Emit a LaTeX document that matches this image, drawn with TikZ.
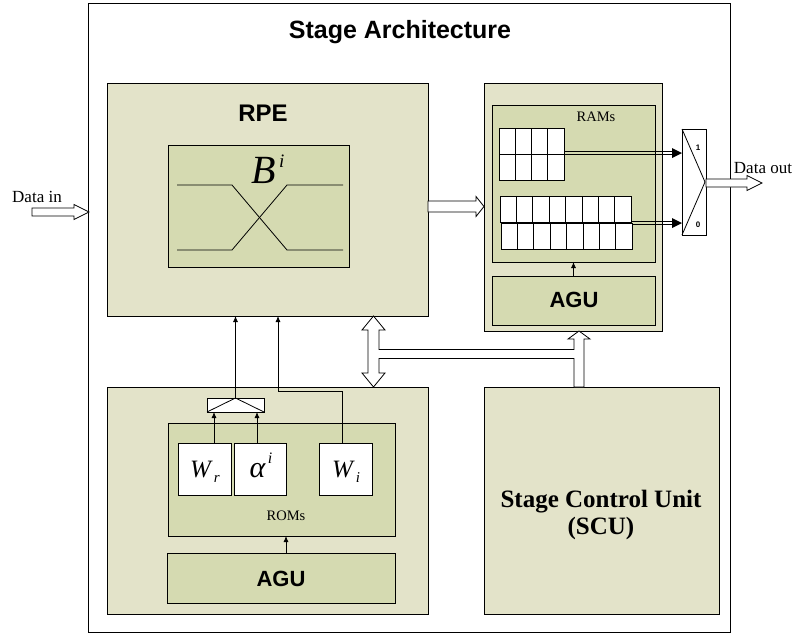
\documentclass[tikz,border=0pt]{standalone}
\usepackage{fontspec}
\setmainfont{Liberation Serif}
\newfontfamily\arialf{Liberation Sans}
\usetikzlibrary{arrows.meta,calc}
\definecolor{outerfill}{RGB}{227,227,201}
\definecolor{innerfill}{RGB}{213,218,177}
\tikzset{
  box/.style={draw=black, line width=0.9pt, inner sep=0pt, outer sep=0pt, anchor=north west},
  obox/.style={box, fill=outerfill},
  ibox/.style={box, fill=innerfill},
  wbox/.style={box, fill=white},
  cell/.style={draw=black, fill=white, line width=0.8pt},
  sig/.style={line width=0.8pt, -{Latex[length=6pt,width=5pt]}},
  wire/.style={line width=0.8pt},
  hollow/.style={draw=black, fill=white, line width=0.8pt, line join=miter},
  lbl/.style={inner sep=0pt, outer sep=0pt},
  bigsans/.style={lbl, font=\arialf\bfseries\fontsize{24}{26}\selectfont},
  agusans/.style={lbl, font=\arialf\bfseries\fontsize{22}{24}\selectfont},
  serifsm/.style={lbl, font=\fontsize{14.5}{16}\selectfont},
  seriflbl/.style={lbl, font=\fontsize{17}{19}\selectfont},
  scufont/.style={lbl, font=\bfseries\fontsize{25}{27}\selectfont},
  muxlbl/.style={lbl, font=\arialf\bfseries\fontsize{8}{9}\selectfont},
}
\begin{document}
\begin{tikzpicture}[x=1pt,y=-1pt]
\useasboundingbox (0,0) rectangle (793,635);
% outer frame
\node[box, minimum width=642pt, minimum height=629pt] (frame) at (88,3) {};
\node[bigsans, font=\arialf\bfseries\fontsize{25}{27}\selectfont] (title) at (400,32) {Stage Architecture};

% RPE
\node[obox, minimum width=321pt, minimum height=233pt] (rpe) at (107,83) {};
\node[bigsans] (rpet) at (263,113) {RPE};
\node[ibox, minimum width=181pt, minimum height=122pt] (bfly) at (168,145) {};
\node[lbl, anchor=base] (bi) at (268,183) {\fontsize{40}{42}\selectfont\textit{B}\kern3pt\raisebox{16pt}{\fontsize{19}{20}\selectfont\textit{i}}};
\draw[wire] (177,185) -- (232,185) -- (287,250) -- (343,250);
\draw[wire] (177,250) -- (232,250) -- (287,185) -- (343,185);

% RAM block
\node[obox, minimum width=178pt, minimum height=248pt] (ram) at (484,83) {};
\node[ibox, minimum width=163pt, minimum height=157pt] (rams) at (492,105) {};
\node[serifsm] (ramst) at (596,117) {RAMs};
\node[ibox, minimum width=163pt, minimum height=49pt] (ragu) at (492,276) {};
\node[agusans] (ragut) at (574,300) {AGU};
\foreach \i in {0,...,3} \foreach \j in {0,1}
  \draw[cell] ({499+\i*16.25},{128+\j*26}) rectangle ++(16.25,26);
\foreach \i in {0,...,7}
  \draw[cell] ({500+\i*16.4},196) rectangle ++(16.4,26.5);
\foreach \i in {0,...,7}
  \draw[cell] ({501+\i*16.4},223) rectangle ++(16.4,26.5);
\draw[sig] (ragu.north) -- (rams.south);

% MUX
\node[wbox, minimum width=24pt, minimum height=106pt] (mux) at (682,129) {};
\draw[wire] (mux.north west) -- (705,182) -- (mux.south west);
\node[muxlbl] (m1) at (698,148) {1};
\node[muxlbl] (m0) at (698,225) {0};
\coordinate (g1) at (564,153);
\coordinate (g2) at (632,223);
\foreach \c/\yy in {g1/153, g2/223}{
  \draw[line width=0.7pt] ($(\c)+(0,-1.3)$) -- (673,\yy-1.3);
  \draw[line width=0.7pt] ($(\c)+(0,1.3)$) -- (673,\yy+1.3);
  \fill (672,\yy-5) -- (682,\yy) -- (672,\yy+5) -- cycle;
}

% ROM block
\node[obox, minimum width=321pt, minimum height=227pt] (rom) at (107,387) {};
\node[ibox, minimum width=227pt, minimum height=113pt] (roms) at (168,423) {};
\node[serifsm] (romst) at (286,516) {ROMs};
\node[ibox, minimum width=228pt, minimum height=50pt] (agu2) at (167,553) {};
\node[agusans] (agu2t) at (281,579) {AGU};
\draw[sig] (agu2.north -| romst) -- (roms.south -| romst);
\node[wbox, minimum width=57pt, minimum height=14pt] (add) at (207,398) {};
\draw[wire] (add.south west) -- (add.north) -- (add.south east);
\node[wbox, minimum width=53pt, minimum height=52pt] (wr) at (178,443) {};
\node[wbox, minimum width=52pt, minimum height=52pt] (al) at (234,443) {};
\node[wbox, minimum width=53pt, minimum height=52pt] (wi) at (319,443) {};
\node[lbl, anchor=base] (wrt) at (205,477) {\fontsize{25}{27}\selectfont\textit{W}\kern1pt\raisebox{-5pt}{\fontsize{15}{16}\selectfont\textit{r}}};
\node[lbl, anchor=base] (alt) at (261,477) {\fontsize{30}{32}\selectfont\textit{α}\kern2pt\raisebox{14pt}{\fontsize{16}{17}\selectfont\textit{i}}};
\node[lbl, anchor=base] (wit) at (346,477) {\fontsize{25}{27}\selectfont\textit{W}\kern1pt\raisebox{-5pt}{\fontsize{15}{16}\selectfont\textit{i}}};
\coordinate (addwr) at (214,412);
\coordinate (addal) at (257,412);
\draw[sig] (wr.north -| addwr) -- (addwr);
\draw[sig] (al.north -| addal) -- (addal);
\draw[sig] (add.north) -- (add.north |- rpe.south);
\coordinate (wibend) at (342,391);
\draw[sig] (wi.north -| wibend) -- (wibend) -- (278,391) -- (278,316);

% SCU
\node[obox, minimum width=235pt, minimum height=227pt] (scu) at (484,387) {};
\node[scufont, anchor=base] (scu1) at (601,507) {Stage Control Unit};
\node[scufont, anchor=base] (scu2) at (601,534) {(SCU)};

% hollow arrows
\node[seriflbl] (din) at (37,197) {Data in};
\draw[hollow] (32,208) -- (74,208) -- (74,204.5) -- (89,212) -- (74,219.5) -- (74,216) -- (32,216) -- cycle;
\node[seriflbl] (dout) at (763,168) {Data out};
\draw[hollow] (706,179) -- (747,179) -- (747,175.5) -- (762,183) -- (747,190.5) -- (747,187) -- (706,187) -- cycle;
\draw[hollow] (428,201) -- (476,201) -- (476,196.5) -- (484,206.5) -- (476,216.5) -- (476,212) -- (428,212) -- cycle;
% bus
\draw[hollow] (373.5,316) -- (385,330) -- (379,330) -- (379,373) -- (385,373) -- (373.5,387) -- (362,373) -- (368,373) -- (368,330) -- (362,330) -- cycle;
\draw[hollow] (579,331) -- (590,339) -- (584,339) -- (584,387) -- (574,387) -- (574,339) -- (568,339) -- cycle;
\fill[white] (378,349.5) rectangle (575,357.5);
\draw[wire] (379,349) -- (574,349);
\draw[wire] (379,358) -- (574,358);
\end{tikzpicture}
\end{document}
